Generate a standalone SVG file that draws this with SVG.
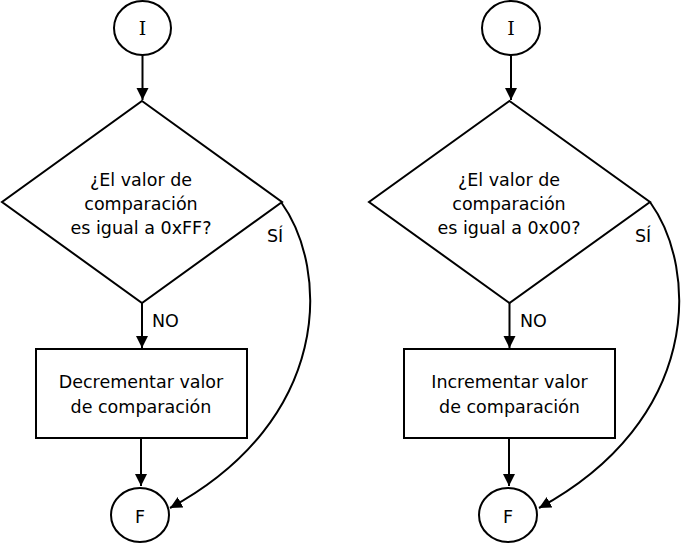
<svg xmlns="http://www.w3.org/2000/svg" width="682" height="543" viewBox="0 0 682 543">
<style>
.s{fill:#fff;stroke:#000;stroke-width:2}
.c{fill:none;stroke:#000;stroke-width:2}
.t{font-family:"DejaVu Sans",Verdana,sans-serif;font-size:17.5px;fill:#000;text-anchor:middle}
.l{font-family:"DejaVu Sans",Verdana,sans-serif;font-size:17.5px;fill:#000}
.i{font-family:"DejaVu Serif","Liberation Serif",serif;font-size:19px;fill:#000;text-anchor:middle}
</style>
<defs>
<marker id="a" markerUnits="userSpaceOnUse" markerWidth="13" markerHeight="13" refX="12" refY="6" orient="auto">
<path d="M0,0 L12,6 L0,12 z" fill="#000"/>
</marker>
</defs>
<g id="connectors">
<path class="c" d="M142.5,55 L142.5,100" marker-end="url(#a)"/>
<path class="c" d="M142,303 L142,348" marker-end="url(#a)"/>
<path class="c" d="M141,438 L141,486" marker-end="url(#a)"/>
<path class="c" d="M281,202 C330,270 332,420 170,508" marker-end="url(#a)"/>
<path class="c" d="M511,55 L511,100" marker-end="url(#a)"/>
<path class="c" d="M509.5,303 L509.5,348" marker-end="url(#a)"/>
<path class="c" d="M509,438 L509,486" marker-end="url(#a)"/>
<path class="c" d="M650,202 C699,270 701,420 539,508" marker-end="url(#a)"/>
</g>
<g id="start1"><ellipse class="s" cx="142.5" cy="28" rx="28.5" ry="27"/><text class="i" x="142.5" y="35">I</text></g>
<g id="dec1"><polygon class="s" points="142,101 282,202 142,303 2,202"/>
<text class="t" x="141" y="186">¿El valor de</text><text class="t" x="141" y="210">comparación</text><text class="t" x="141" y="234">es igual a 0xFF?</text></g>
<g id="proc1"><rect class="s" x="36" y="349" width="211" height="89"/>
<text class="t" x="141" y="388">Decrementar valor</text><text class="t" x="141" y="413">de comparación</text></g>
<g id="end1"><ellipse class="s" cx="140" cy="515" rx="29" ry="27"/><text class="l" x="140" y="523" text-anchor="middle">F</text></g>
<g id="labels1"><text class="l" x="152" y="327">NO</text><text class="l" x="267" y="242">SÍ</text></g>
<g id="start2"><ellipse class="s" cx="511" cy="28" rx="29" ry="27"/><text class="i" x="511" y="35">I</text></g>
<g id="dec2"><polygon class="s" points="509.5,101 650,202 509.5,303 369,202"/>
<text class="t" x="509" y="186">¿El valor de</text><text class="t" x="509" y="210">comparación</text><text class="t" x="509" y="234">es igual a 0x00?</text></g>
<g id="proc2"><rect class="s" x="404" y="349" width="211" height="89"/>
<text class="t" x="509.5" y="388">Incrementar valor</text><text class="t" x="509.5" y="413">de comparación</text></g>
<g id="end2"><ellipse class="s" cx="508" cy="515" rx="29" ry="27"/><text class="l" x="508" y="523" text-anchor="middle">F</text></g>
<g id="labels2"><text class="l" x="520" y="327">NO</text><text class="l" x="635" y="242">SÍ</text></g>
</svg>
